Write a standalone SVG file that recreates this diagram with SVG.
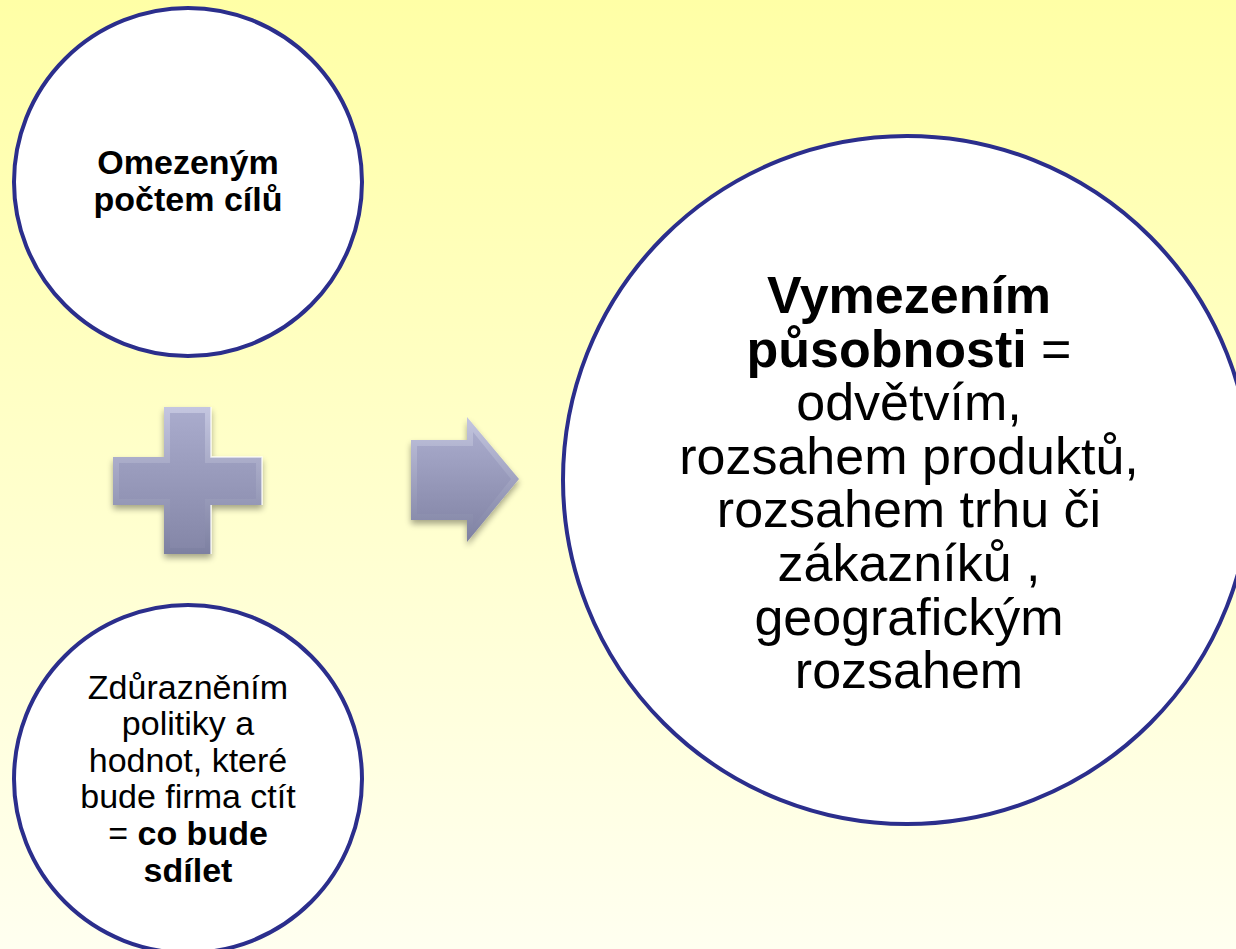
<svg xmlns="http://www.w3.org/2000/svg" width="1236" height="949" viewBox="0 0 1236 949">
<style>
.node circle{fill:#ffffff;stroke:#2B2E8C;stroke-width:4}
.t{font-family:"Liberation Sans",Arial,sans-serif;fill:#000000;text-anchor:middle}
.b{font-weight:bold}
.s{font-size:34px}
.l{font-size:52px}
</style>
<defs>
<linearGradient id="bg" x1="0" y1="0" x2="0" y2="1">
<stop offset="0" stop-color="#FFFFA6"/>
<stop offset="1" stop-color="#FFFFF0"/>
</linearGradient>
<linearGradient id="edge" x1="0" y1="0" x2="0" y2="1">
<stop offset="0" stop-color="#C4C6E0"/>
<stop offset="1" stop-color="#7D80A1"/>
</linearGradient>
<linearGradient id="face" x1="0" y1="0" x2="0" y2="1">
<stop offset="0" stop-color="#A9ABCC"/>
<stop offset="1" stop-color="#8587A8"/>
</linearGradient>
<filter id="sh" x="-20%" y="-20%" width="140%" height="150%">
<feGaussianBlur in="SourceAlpha" stdDeviation="3"/>
<feOffset dx="0" dy="4" result="o"/>
<feComponentTransfer><feFuncA type="linear" slope="0.35"/></feComponentTransfer>
<feMerge><feMergeNode/><feMergeNode in="SourceGraphic"/></feMerge>
</filter>
</defs>
<rect x="0" y="0" width="1236" height="949" fill="url(#bg)"/>

<g id="connectors">
<g id="plus" filter="url(#sh)">
<polygon points="164,407 211,407 211,457 262,457 262,505 211,505 211,554 164,554 164,505 113,505 113,457 164,457" fill="url(#edge)"/>
<polygon points="170,413 205,413 205,463 256,463 256,499 205,499 205,548 170,548 170,499 119,499 119,463 170,463" fill="url(#face)"/>
<polyline points="211,407 211,457 262,457 262,505" fill="none" stroke="#ffffff" stroke-opacity="0.75" stroke-width="1.5"/>
<polyline points="211,505 211,554" fill="none" stroke="#ffffff" stroke-opacity="0.75" stroke-width="1.5"/>
</g>
<g id="arrow" filter="url(#sh)">
<polygon points="411,440 467,440 467,417 519,479 467,542 467,520 411,520" fill="url(#edge)"/>
<polygon points="417,446 473,446 473,432 511,479 473,527 473,514 417,514" fill="url(#face)"/>
</g>
</g>

<g id="node-goals" class="node">
<circle cx="188" cy="182" r="174"/>
<text class="t b s" x="188" y="174">Omezeným</text>
<text class="t b s" x="188" y="211">počtem cílů</text>
</g>

<g id="node-values" class="node">
<circle cx="188" cy="779" r="174"/>
<text class="t s" x="188" y="699">Zdůrazněním</text>
<text class="t s" x="188" y="735">politiky a</text>
<text class="t s" x="188" y="772">hodnot, které</text>
<text class="t s" x="188" y="808">bude firma ctít</text>
<text class="t s" x="188" y="845">= <tspan class="b">co bude</tspan></text>
<text class="t b s" x="188" y="882">sdílet</text>
</g>

<g id="node-scope" class="node">
<circle cx="907" cy="480" r="344"/>
<text class="t b l" x="909" y="313">Vymezením</text>
<text class="t l" x="909" y="367"><tspan class="b">působnosti</tspan> =</text>
<text class="t l" x="909" y="420">odvětvím,</text>
<text class="t l" x="909" y="474">rozsahem produktů,</text>
<text class="t l" x="909" y="527">rozsahem trhu či</text>
<text class="t l" x="909" y="581">zákazníků ,</text>
<text class="t l" x="909" y="635">geografickým</text>
<text class="t l" x="909" y="688">rozsahem</text>
</g>
</svg>
